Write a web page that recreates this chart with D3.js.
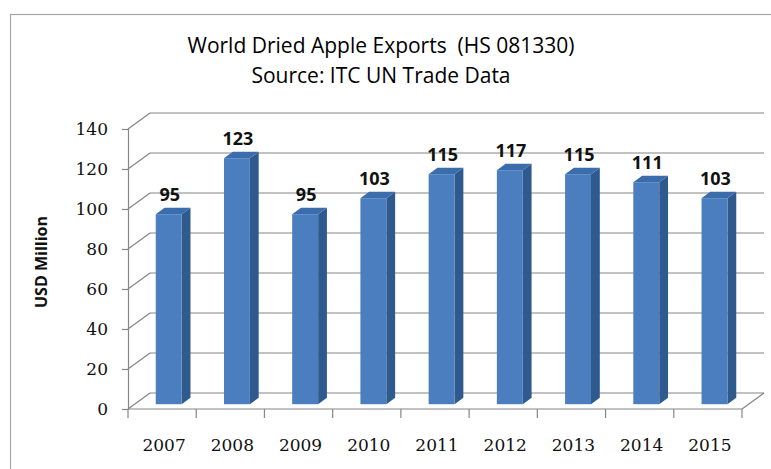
<!DOCTYPE html>
<html>
<head>
<meta charset="utf-8">
<script src="https://cdn.jsdelivr.net/npm/d3@7"></script>
<style>
  html, body { margin: 0; padding: 0; background: #fff; }
  svg { display: block; font-family: "Open Sans", Lato, sans-serif; }
  .title { white-space: pre; }
</style>
</head>
<body>
<svg id="chart" width="771" height="469"></svg>
<script>
// World dried apple exports, USD million
const years = ["2007", "2008", "2009", "2010", "2011", "2012", "2013", "2014", "2015"];
const exportsUsdMillion = [95, 123, 95, 103, 115, 117, 115, 111, 103];
const yTicks = [0, 20, 40, 60, 80, 100, 120, 140];
const titleLines = ["World Dried Apple Exports  (HS 081330)", "Source: ITC UN Trade Data"];
const yAxisTitle = "USD Million";

const svg = d3.select("#chart");

// front plane of the 3-D plot box
const plot = { left: 128, right: 742, bottom: 409, top: 129 };
// depth of the box (offset of the back wall from the front plane)
const depth = { dx: 22, dy: -16 };

const x = d3.scaleBand().domain(years).range([plot.left, plot.right]).paddingInner(0).paddingOuter(0);
const y = d3.scaleLinear().domain([0, 140]).range([plot.bottom, plot.top]);

const gridColor = "#868686";
const numberFont = "'DejaVu Serif', serif";

// chart frame
svg.append("rect")
  .attr("x", 10.5).attr("y", 14.5)
  .attr("width", 800).attr("height", 500)
  .attr("fill", "none").attr("stroke", "#a6a6a6").attr("stroke-width", 1.2);

// title
svg.append("g").selectAll("text").data(titleLines).join("text")
  .attr("class", "title")
  .attr("x", 381).attr("y", (d, i) => 53 + i * 30)
  .attr("text-anchor", "middle")
  .attr("font-size", 21)
  .attr("font-weight", 500)
  .attr("fill", "#000")
  .text(d => d);

// back wall gridlines
const grid = svg.append("g").attr("stroke", gridColor).attr("stroke-width", 1.2).attr("fill", "none");
grid.selectAll("line.back").data(yTicks).join("line")
  .attr("class", "back")
  .attr("x1", plot.left + depth.dx).attr("x2", plot.right + depth.dx)
  .attr("y1", d => y(d) + depth.dy).attr("y2", d => y(d) + depth.dy);
// side wall diagonals
grid.selectAll("line.side").data(yTicks).join("line")
  .attr("class", "side")
  .attr("x1", plot.left).attr("x2", plot.left + depth.dx)
  .attr("y1", d => y(d)).attr("y2", d => y(d) + depth.dy);
// floor front and right edges
grid.append("line")
  .attr("x1", plot.left).attr("x2", plot.right)
  .attr("y1", y(0)).attr("y2", y(0));
grid.append("line")
  .attr("x1", plot.right).attr("x2", plot.right + depth.dx)
  .attr("y1", y(0)).attr("y2", y(0) + depth.dy);

// vertical value axis on the front plane
const yAxis = d3.axisLeft(y).tickValues(yTicks).tickSize(6).tickPadding(14).tickFormat(d3.format("d"));
const gy = svg.append("g").attr("transform", `translate(${plot.left},0)`).call(yAxis);
gy.select(".domain").attr("stroke", gridColor).attr("stroke-width", 1.2);
gy.selectAll(".tick line").attr("stroke", gridColor).attr("stroke-width", 1.2);
gy.selectAll(".tick text").attr("font-size", 17).attr("fill", "#111").attr("font-family", numberFont);

// category axis with ticks at band boundaries
const boundaries = years.map(d => x(d)).concat([plot.right]);
svg.append("g").selectAll("line").data(boundaries).join("line")
  .attr("x1", d => d).attr("x2", d => d)
  .attr("y1", y(0)).attr("y2", y(0) + 9)
  .attr("stroke", gridColor).attr("stroke-width", 1.2);
svg.append("g").selectAll("text").data(years).join("text")
  .attr("x", d => x(d) + x.bandwidth() / 2 + 2)
  .attr("y", 451)
  .attr("text-anchor", "middle")
  .attr("font-size", 17)
  .attr("font-family", numberFont)
  .attr("fill", "#111")
  .text(d => d);

// axis title
svg.append("text")
  .attr("transform", "translate(47,262) rotate(-90)")
  .attr("text-anchor", "middle")
  .attr("font-size", 16)
  .attr("font-weight", "bold")
  .attr("fill", "#111")
  .text(yAxisTitle);

// 3-D columns
const f0 = 0.3, f1 = 0.7;              // bar depth span as fraction of box depth
const barW = x.bandwidth() * 0.38;
const bars = years.map((yr, i) => {
  const cx = x(yr) + x.bandwidth() / 2 + f0 * depth.dx;
  const x0 = cx - barW / 2, x1 = cx + barW / 2;
  const yb = y(0) + f0 * depth.dy, yt = y(exportsUsdMillion[i]) + f0 * depth.dy;
  const ddx = (f1 - f0) * depth.dx, ddy = (f1 - f0) * depth.dy;
  return { yr, v: exportsUsdMillion[i], cx, x0, x1, yb, yt, ddx, ddy };
});

const gb = svg.append("g");
gb.selectAll("path.side").data(bars).join("path")
  .attr("class", "side")
  .attr("d", b => `M${b.x1},${b.yb} L${b.x1 + b.ddx},${b.yb + b.ddy} L${b.x1 + b.ddx},${b.yt + b.ddy} L${b.x1},${b.yt} Z`)
  .attr("fill", "#2f5a8e");
gb.selectAll("path.top").data(bars).join("path")
  .attr("class", "top")
  .attr("d", b => `M${b.x0},${b.yt} L${b.x0 + b.ddx},${b.yt + b.ddy} L${b.x1 + b.ddx},${b.yt + b.ddy} L${b.x1},${b.yt} Z`)
  .attr("fill", "#3b6cab");
gb.selectAll("rect.front").data(bars).join("rect")
  .attr("class", "front")
  .attr("x", b => b.x0).attr("y", b => b.yt)
  .attr("width", barW).attr("height", b => b.yb - b.yt)
  .attr("fill", "#4a7ebe");

// value labels
svg.append("g").selectAll("text").data(bars).join("text")
  .attr("x", b => b.cx + 1)
  .attr("y", b => b.yt + b.ddy - 7)
  .attr("text-anchor", "middle")
  .attr("font-size", 18)
  .attr("font-weight", "bold")
  .attr("fill", "#111")
  .text(b => b.v);
</script>
</body>
</html>
